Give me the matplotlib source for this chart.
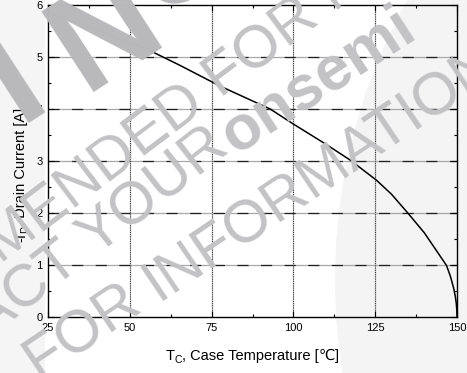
import matplotlib
matplotlib.use("Agg")
import matplotlib.pyplot as plt
from matplotlib.patches import Rectangle, Ellipse
from matplotlib.ticker import MultipleLocator

# ---- data ----
case_temp = [25, 40, 54.6, 65, 77.6, 92.9, 100, 110, 117.3, 125.4, 130, 135.1, 140,
             144, 146.8, 148, 149, 149.5, 149.8, 149.95, 150]
drain_current = [5.85, 5.52, 5.17, 4.85, 4.44, 4.0, 3.71, 3.32, 3.02, 2.63, 2.36, 1.99, 1.62,
                 1.25, 0.99, 0.78, 0.55, 0.39, 0.25, 0.12, 0.0]
x_ticks = [25, 50, 75, 100, 125, 150]
y_ticks = [0, 1, 2, 3, 4, 5, 6]
x_label_parts = ["T", "C", ", Case Temperature [", "\u2103", "]"]
y_label_parts = ["-I", "D", ", Drain Current [A]"]

FAM = ['Liberation Sans', 'DejaVu Sans']
plt.rcParams['font.family'] = FAM
plt.rcParams['lines.scale_dashes'] = False

W, H = 467, 373
fig = plt.figure(figsize=(W / 100, H / 100), dpi=100)
fig.patch.set_facecolor('#f5f5f5')

def P(x, y):
    return (x / W, 1 - y / H)

# background light shapes (watermark backdrop)
fig.patches.append(Rectangle(P(45, 373), (W - 45) / W, 1, transform=fig.transFigure,
                             facecolor='white', edgecolor='none', zorder=-3))
fig.patches.append(Ellipse(P(915, 280), 2 * 580 / W, 2 * 580 / H, transform=fig.transFigure,
                           facecolor='#f4f4f4', edgecolor='none', zorder=-2))

ax = fig.add_axes([48 / W, 1 - 317 / H, 409 / W, 312 / H])
ax.patch.set_alpha(0)

ax.set_xlim(x_ticks[0], x_ticks[-1])
ax.set_ylim(y_ticks[0], y_ticks[-1])
ax.set_xticks(x_ticks)
ax.set_yticks(y_ticks)
ax.xaxis.set_minor_locator(MultipleLocator(12.5))
ax.yaxis.set_minor_locator(MultipleLocator(0.5))
ax.tick_params(which='both', direction='in', top=True, right=True, labelsize=8,
               colors='black', width=0.8)
ax.tick_params(which='major', length=4, pad=4)
ax.tick_params(which='minor', length=2.5)
for s in ax.spines.values():
    s.set_linewidth(1.0)
    s.set_color('black')

# grid: horizontal gray solid + black dashes, vertical dotted
for yv in y_ticks[1:-1]:
    ax.axhline(yv, color='#a8a8a8', lw=0.9, zorder=1)
    ax.axhline(yv, color='#202020', lw=0.9, dashes=(8, 9), zorder=1.1)
for xv in x_ticks[1:-1]:
    ax.axvline(xv, color='#c8c8c8', lw=0.9, zorder=1)
    ax.axvline(xv, color='#404040', lw=0.8, dashes=(0.8, 0.8), zorder=1.1)

ax.plot(case_temp, drain_current, color='black', lw=1.1, zorder=3)

# ---- axis labels laid out piece by piece (subscripts, degree-C sign) ----
renderer = fig.canvas.get_renderer()
LS = 10.5
SS = 7.5

def piece_width(s, size):
    t = fig.text(0, 0, s, fontsize=size, family=FAM)
    w = t.get_window_extent(renderer).width
    t.remove()
    return w

def label_row(cx, base, parts, sizes, vertical=False):
    widths = [piece_width(p, s) for p, s in zip(parts, sizes)]
    total = sum(widths)
    pos = -total / 2
    for p, s, w in zip(parts, sizes, widths):
        shift = 3 if s == SS else 0
        if not vertical:
            fig.text(*P(cx + pos, base + shift), p, fontsize=s, family=FAM,
                     ha='left', va='baseline')
        else:
            fig.text(*P(base + shift, cx - pos), p, fontsize=s, family=FAM,
                     rotation=90, rotation_mode='anchor', ha='left', va='baseline')
        pos += w

label_row(252, 360, x_label_parts, [LS, SS, LS, LS, LS])
label_row(175, 25, y_label_parts, [LS, SS, LS], vertical=True)

# ---- watermark ----
wc = '#c3c3c5'
kw = dict(rotation_mode='anchor', va='baseline', color=wc,
          fontsize=43, transform=fig.transFigure, zorder=10)
fig.text(*P(1, 265), "NOT RECOM", ha='right', rotation=37, **kw)
fig.text(*P(1, 265), "MENDED FOR NEW DESIGN", ha='left', rotation=37, **kw)
fig.text(*P(95, 257), "CONTACT ", ha='right', rotation=38, **kw)
fig.text(*P(95, 257), "YOUR", ha='left', rotation=38, **kw)
kwb = dict(kw); kwb['fontweight'] = 'bold'; kwb['fontsize'] = 45
fig.text(*P(235, 155), "onsemi", ha='left', rotation=33, **kwb)
fig.text(*P(158, 302), "FOR ", ha='right', rotation=34, **kw)
fig.text(*P(158, 302), "INFORMATION", ha='left', rotation=34, **kw)

kbig = dict(rotation=33, rotation_mode='anchor', va='baseline', color='#b9b9bb',
            fontsize=100, fontweight='bold', transform=fig.transFigure, zorder=11)
fig.text(*P(20, 123), "DISCONT", ha='right', **kbig)
fig.text(*P(20, 123), "I", ha='left', **kbig)
fig.text(*P(85, 92), "N", ha='left', **kbig)
fig.text(*P(157, 16), "UED", ha='left', **kbig)

fig.savefig("out.png", dpi=100, facecolor=fig.get_facecolor())
